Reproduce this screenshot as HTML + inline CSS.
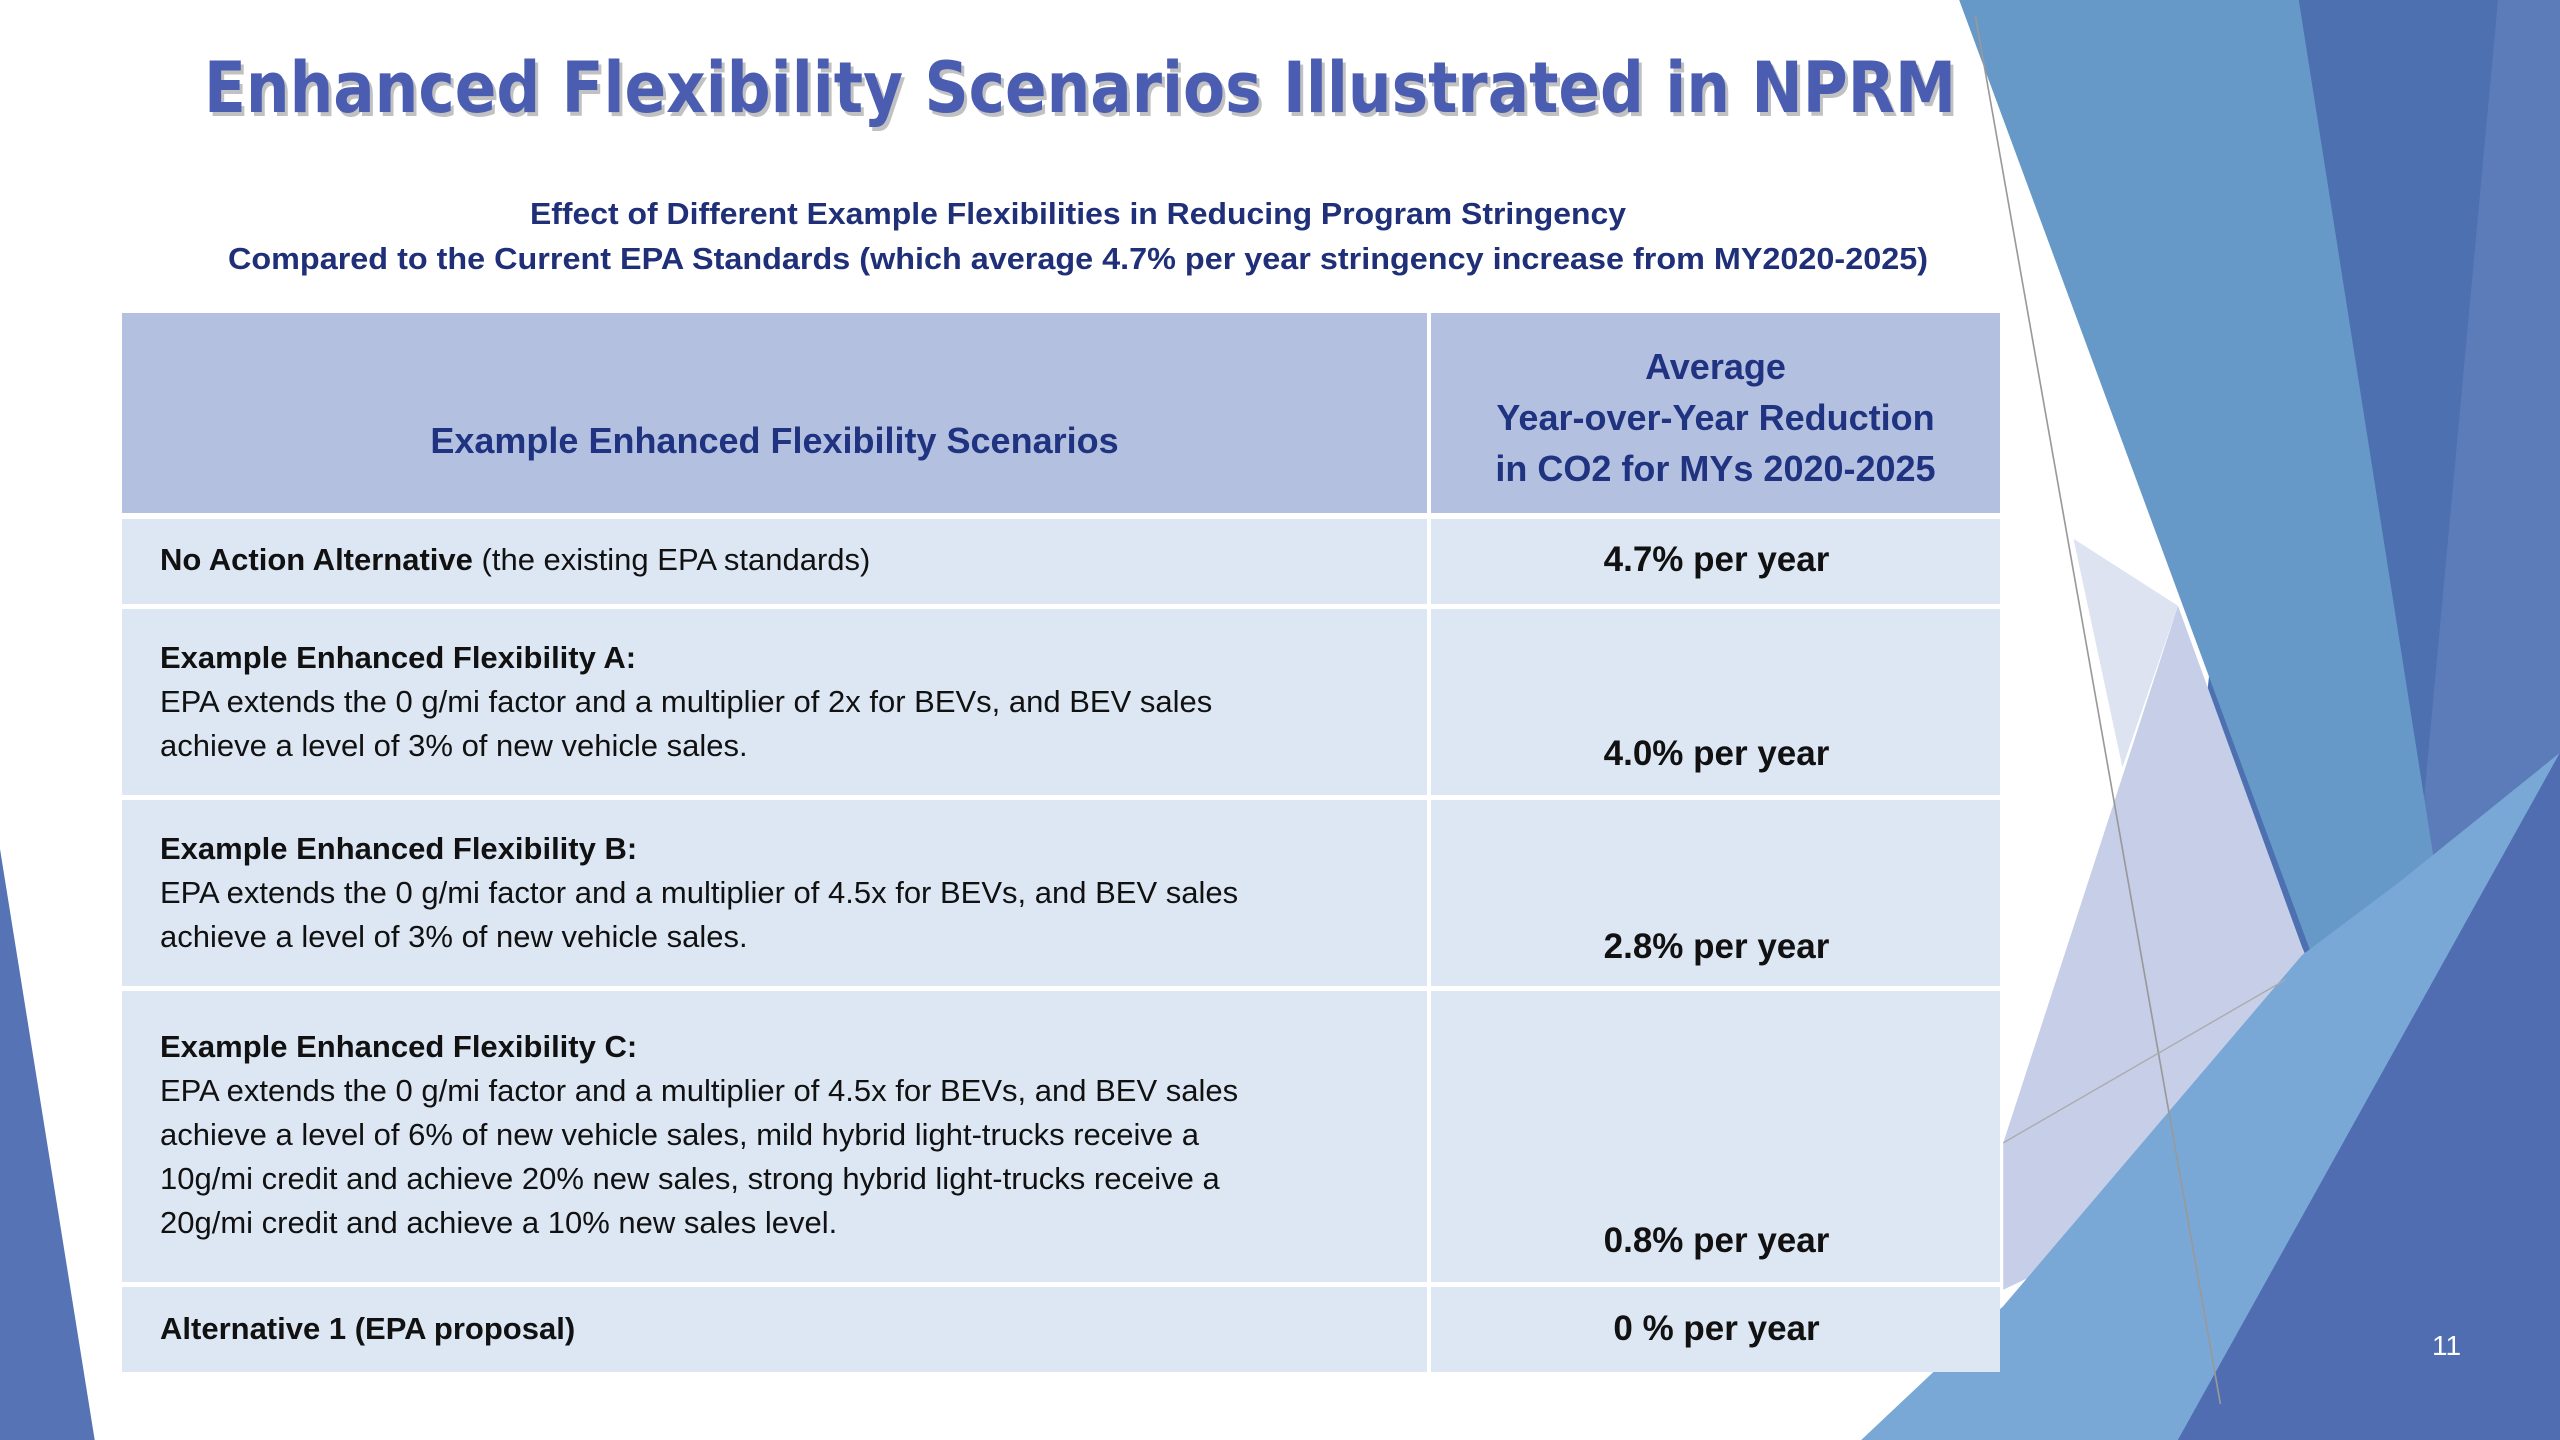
<!DOCTYPE html>
<html><head><meta charset="utf-8"><style>
body{margin:0;width:2560px;height:1440px;overflow:hidden;background:#fff;position:relative;font-family:"Liberation Sans",sans-serif}
.a{position:absolute}
.t{position:absolute;left:160px;font-size:31px;color:#111;line-height:44px;white-space:nowrap}
.v{position:absolute;left:1433px;width:567px;text-align:center;font-size:35px;font-weight:bold;color:#111;line-height:44px}
.cell{position:absolute;background:#dde7f4}
</style></head><body>
<svg class="a" style="left:0;top:0" width="2560" height="1440" viewBox="0 0 1568 882" preserveAspectRatio="none">
<polygon points="0,520 0,882 58,882" fill="#5573b5"/>
<polygon points="1400,0 1568,0 1568,882 1300,882" fill="#4c70b0"/>
<polygon points="1530,0 1568,0 1568,461 1480,540" fill="#5b7bb9"/>
<polygon points="1200,0 1408,0 1499,579 1440,650" fill="#6699c8"/>
<polygon points="1334,371 1410,580 1440,650 1290,760 1227,790 1227,700" fill="#c6cee8"/>
<polygon points="1270,330 1334,371 1300,470" fill="#dde3f1"/>
<polygon points="1140,882 1227,800 1410,585 1470,540 1568,461 1334,882" fill="#7aa8d6"/>
<polygon points="1568,461 1568,882 1334,882" fill="#4f6db0"/>
<line x1="1210" y1="10" x2="1360" y2="860" stroke="#999" stroke-width="1"/>
<line x1="1227" y1="700" x2="1400" y2="600" stroke="#aaa" stroke-width="0.8"/>
</svg>
<svg class="a" style="left:0;top:0" width="2560" height="300">
<text x="204" y="112" textLength="1752" lengthAdjust="spacingAndGlyphs" font-family="DejaVu Sans, sans-serif" font-weight="bold" font-size="70" fill="#999" opacity="0.6" transform="translate(3,4)">Enhanced Flexibility Scenarios Illustrated in NPRM</text>
<text x="204" y="112" textLength="1752" lengthAdjust="spacingAndGlyphs" font-family="DejaVu Sans, sans-serif" font-weight="bold" font-size="70" fill="#4a5db0">Enhanced Flexibility Scenarios Illustrated in NPRM</text>
<text x="1078" y="224" text-anchor="middle" textLength="1096" lengthAdjust="spacingAndGlyphs" font-family="Liberation Sans, sans-serif" font-weight="bold" font-size="31" fill="#1f2f78">Effect of Different Example Flexibilities in Reducing Program Stringency</text>
<text x="1078" y="269" text-anchor="middle" textLength="1700" lengthAdjust="spacingAndGlyphs" font-family="Liberation Sans, sans-serif" font-weight="bold" font-size="31" fill="#1f2f78">Compared to the Current EPA Standards (which average 4.7% per year stringency increase from MY2020-2025)</text>
</svg>
<div>
<div class="cell" style="left:122px;top:313px;width:1305px;height:200px;background:#b4c0e0"></div>
<div class="cell" style="left:1431px;top:313px;width:569px;height:200px;background:#b4c0e0"></div>
<div class="a" style="left:122px;top:419px;width:1305px;text-align:center;font-size:36px;font-weight:bold;color:#1f3380;line-height:44px">Example Enhanced Flexibility Scenarios</div>
<div class="a" style="left:1431px;top:341px;width:569px;text-align:center;font-size:36px;font-weight:bold;color:#1f3380;line-height:51px">Average<br>Year-over-Year Reduction<br>in CO2 for MYs 2020-2025</div>

<div class="cell" style="left:122px;top:519px;width:1305px;height:85px"></div><div class="cell" style="left:1431px;top:519px;width:569px;height:85px"></div>
<div class="cell" style="left:122px;top:609px;width:1305px;height:186px"></div><div class="cell" style="left:1431px;top:609px;width:569px;height:186px"></div>
<div class="cell" style="left:122px;top:800px;width:1305px;height:186px"></div><div class="cell" style="left:1431px;top:800px;width:569px;height:186px"></div>
<div class="cell" style="left:122px;top:991px;width:1305px;height:291px"></div><div class="cell" style="left:1431px;top:991px;width:569px;height:291px"></div>
<div class="cell" style="left:122px;top:1287px;width:1305px;height:85px"></div><div class="cell" style="left:1431px;top:1287px;width:569px;height:85px"></div>

<div class="t" style="top:538px"><b>No Action Alternative</b> (the existing EPA standards)</div>
<div class="v" style="top:538px">4.7% per year</div>
<div class="t" style="top:636px"><b>Example Enhanced Flexibility A:</b><br>EPA extends the 0 g/mi factor and a multiplier of 2x for BEVs, and BEV sales<br>achieve a level of 3% of new vehicle sales.</div>
<div class="v" style="top:732px">4.0% per year</div>
<div class="t" style="top:827px"><b>Example Enhanced Flexibility B:</b><br>EPA extends the 0 g/mi factor and a multiplier of 4.5x for BEVs, and BEV sales<br>achieve a level of 3% of new vehicle sales.</div>
<div class="v" style="top:925px">2.8% per year</div>
<div class="t" style="top:1025px"><b>Example Enhanced Flexibility C:</b><br>EPA extends the 0 g/mi factor and a multiplier of 4.5x for BEVs, and BEV sales<br>achieve a level of 6% of new vehicle sales, mild hybrid light-trucks receive a<br>10g/mi credit and achieve 20% new sales, strong hybrid light-trucks receive a<br>20g/mi credit and achieve a 10% new sales level.</div>
<div class="v" style="top:1219px">0.8% per year</div>
<div class="t" style="top:1307px"><b>Alternative 1 (EPA proposal)</b></div>
<div class="v" style="top:1307px">0 % per year</div>
</div>
<div class="a" style="left:2432px;top:1330px;font-size:28px;color:#fff">11</div>
</body></html>
